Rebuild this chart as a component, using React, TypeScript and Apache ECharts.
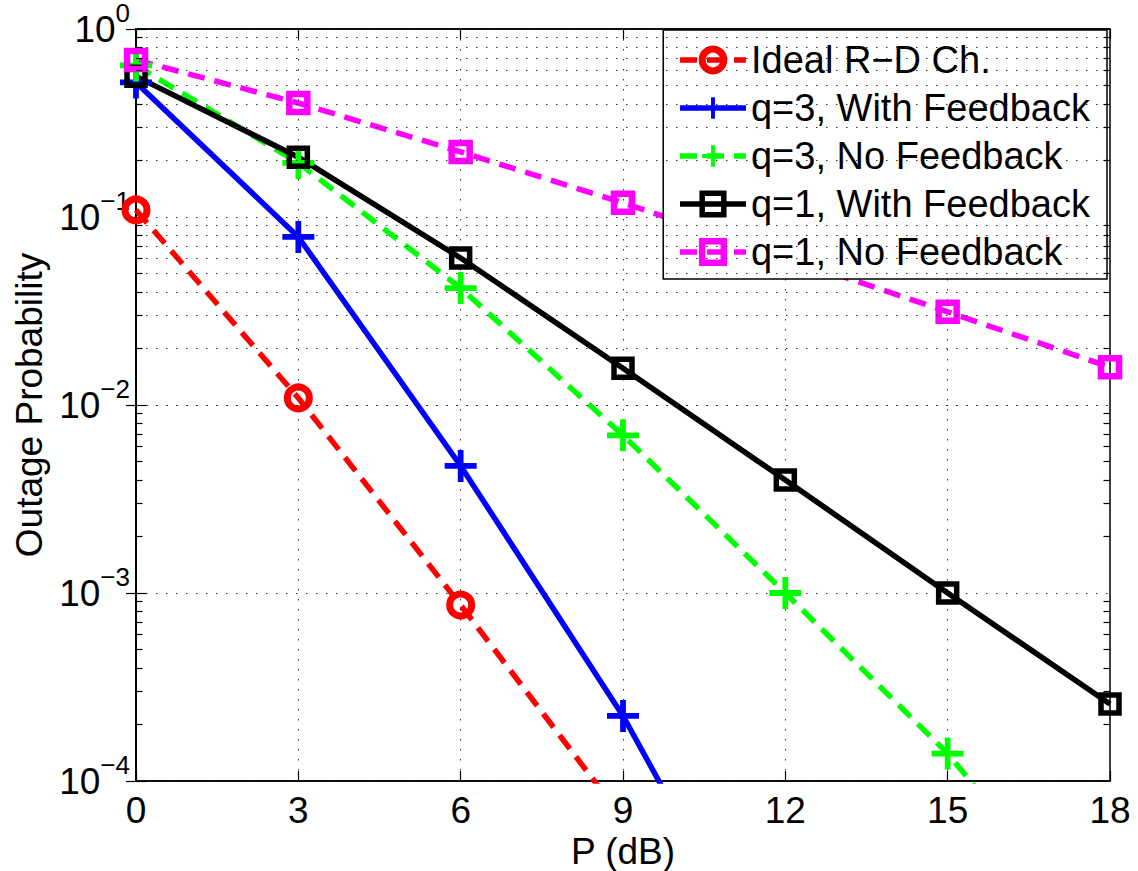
import React, { useEffect, useRef } from "react";
import * as echarts from "echarts";

const FONT = "'Liberation Sans', Arial, Helvetica, sans-serif";

// x positions (dB)
const pdB = [0, 3, 6, 9, 12, 15, 18];
const xTicks = [0, 3, 6, 9, 12, 15, 18];
const yDecades = [-4, -3, -2, -1, 0];
const minorMultipliers = [2, 3, 4, 5, 6, 7, 8, 9];

// series values (outage probability)
const idealRD = [0.109, 0.0109, 8.63e-4, 6.3e-5];
const q3WithFb = [0.52, 0.0783, 4.74e-3, 2.22e-4, 6e-6];
const q3NoFb = [0.64, 0.194, 0.0419, 6.9e-3, 1.0e-3, 1.4e-4, 1.25e-5];
const q1WithFb = [0.56, 0.208, 0.0605, 0.0157, 3.99e-3, 1.0e-3, 2.57e-4];
const q1NoFb = [0.684, 0.404, 0.222, 0.119, 0.0612, 0.0313, 0.0159];

const names = [
  "Ideal R\u2212D Ch.",
  "q=3, With Feedback",
  "q=3, No Feedback",
  "q=1, With Feedback",
  "q=1, No Feedback",
];

const PLUS = "path://M12.3,0 H17.7 V12.3 H30 V17.7 H17.7 V30 H12.3 V17.7 H0 V12.3 H12.3 Z";

function pairs(vals: number[]) {
  return vals.map((v, i) => [pdB[i], v]);
}

export default function App() {
  const ref = useRef<HTMLDivElement>(null);
  useEffect(() => {
    if (!ref.current) return;
    const chart = echarts.init(ref.current, null, { renderer: "svg" });
    const dash = [17, 10];
    const LW = 5.5;
    const gridDots = { type: [1.5, 8.5], color: "#333", width: 1 };

    const minorVals: number[] = [];
    yDecades.slice(0, -1).forEach((d) =>
      minorMultipliers.forEach((m) => minorVals.push(m * Math.pow(10, d)))
    );
    const markData: any[] = [];
    minorVals.forEach((v) => {
      markData.push({ yAxis: v, lineStyle: gridDots });
    });
    minorVals.forEach((v) => {
      markData.push([
        { coord: [0, v], lineStyle: { type: "solid", color: "#000", width: 1.2 } },
        { coord: [0.12, v] },
      ]);
      markData.push([
        { coord: [17.88, v], lineStyle: { type: "solid", color: "#000", width: 1.2 } },
        { coord: [18, v] },
      ]);
    });

    const supLabel = (value: number) => {
      const e = Math.round(Math.log10(value));
      const s = e === 0 ? "0" : "\u2212" + String(-e);
      return "{b|10}{s|" + s + "}";
    };

    const styles = [
      {
        line: { color: "#ff0000", width: LW, type: dash },
        item: { color: "rgba(255,255,255,0)", borderColor: "#ff0000", borderWidth: 7 },
      },
      {
        line: { color: "#0000ff", width: LW, type: "solid" },
        item: { color: "#0000ff", borderWidth: 0 },
      },
      {
        line: { color: "#00ff00", width: LW, type: dash },
        item: { color: "#00ff00", borderWidth: 0 },
      },
      {
        line: { color: "#000000", width: LW, type: "solid" },
        item: { color: "rgba(255,255,255,0)", borderColor: "#000000", borderWidth: 5.5 },
      },
      {
        line: { color: "#ff00ff", width: LW, type: dash },
        item: { color: "rgba(255,255,255,0)", borderColor: "#ff00ff", borderWidth: 6.5 },
      },
    ];

    const option: any = {
      animation: false,
      backgroundColor: "#fff",
      textStyle: { fontFamily: FONT },
      grid: {
        left: 136,
        right: 28,
        top: 29,
        bottom: 90,
        containLabel: false,
        outerBoundsMode: "none",
        show: true,
        borderColor: "#000",
        borderWidth: 1.5,
        backgroundColor: "#fff",
      },
      legend: {
        data: names.map((n, i) => ({
          name: n,
          lineStyle: styles[i].line,
          itemStyle: styles[i].item,
        })),
        orient: "vertical",
        right: 31,
        top: 30,
        backgroundColor: "#fff",
        borderColor: "#000",
        borderWidth: 1.5,
        padding: [11, 17, 8, 14],
        itemWidth: 66,
        itemHeight: 27,
        itemGap: 10,
        textStyle: { fontSize: 38, color: "#000", fontFamily: FONT },
        selectedMode: false,
      },
      xAxis: [
        {
          type: "value",
          min: 0,
          max: 18,
          interval: 3,
          name: "P (dB)",
          nameLocation: "middle",
          nameGap: 55,
          nameMoveOverlap: false,
          nameTextStyle: { fontSize: 37, lineHeight: 30, color: "#000", fontFamily: FONT },
          axisLine: { lineStyle: { color: "#000", width: 1.5 } },
          axisTick: { inside: true, length: 10, lineStyle: { color: "#000", width: 1.2 } },
          axisLabel: {
            fontSize: 37,
            lineHeight: 30,
            color: "#000",
            margin: 14,
            fontFamily: FONT,
            customValues: xTicks,
          },
          splitLine: { show: true, lineStyle: gridDots },
        },
        {
          type: "value",
          position: "top",
          min: 0,
          max: 18,
          interval: 3,
          axisLine: { lineStyle: { color: "#000", width: 1.5 } },
          axisTick: { inside: true, length: 10, lineStyle: { color: "#000", width: 1.2 } },
          axisLabel: { show: false },
          splitLine: { show: false },
        },
      ],
      yAxis: [
        {
          type: "log",
          logBase: 10,
          min: 1e-4,
          max: 1,
          name: "Outage Probability",
          nameLocation: "middle",
          nameGap: 88,
          nameMoveOverlap: false,
          nameTextStyle: { fontSize: 37, color: "#000", fontFamily: FONT },
          axisLine: { lineStyle: { color: "#000", width: 1.5 } },
          axisTick: { inside: true, length: 10, lineStyle: { color: "#000", width: 1.2 } },
          axisLabel: {
            margin: 6,
            formatter: supLabel,
            rich: {
              b: { fontSize: 37, color: "#000", fontFamily: FONT, verticalAlign: "bottom", lineHeight: 37 },
              s: {
                fontSize: 26,
                color: "#000",
                fontFamily: FONT,
                verticalAlign: "bottom",
                lineHeight: 26,
                padding: [0, 0, 22, 0],
              },
            },
          },
          splitLine: { show: true, lineStyle: gridDots },
        },
        {
          type: "log",
          logBase: 10,
          min: 1e-4,
          max: 1,
          position: "right",
          axisLine: { lineStyle: { color: "#000", width: 1.5 } },
          axisTick: { inside: true, length: 10, lineStyle: { color: "#000", width: 1.2 } },
          axisLabel: { show: false },
          splitLine: { show: false },
        },
      ],
      series: [
        {
          name: "__grid",
          type: "line",
          data: [],
          silent: true,
          markLine: {
            silent: true,
            symbol: ["none", "none"],
            label: { show: false },
            animation: false,
            data: markData,
          },
        },
        {
          name: names[0],
          type: "line",
          data: pairs(idealRD),
          clip: true,
          symbol: "circle",
          symbolSize: 22,
          lineStyle: styles[0].line,
          itemStyle: styles[0].item,
        },
        {
          name: names[1],
          type: "line",
          data: pairs(q3WithFb),
          clip: true,
          symbol: PLUS,
          symbolSize: 32,
          lineStyle: styles[1].line,
          itemStyle: styles[1].item,
        },
        {
          name: names[2],
          type: "line",
          data: pairs(q3NoFb),
          clip: true,
          symbol: PLUS,
          symbolSize: 32,
          lineStyle: styles[2].line,
          itemStyle: styles[2].item,
        },
        {
          name: names[3],
          type: "line",
          data: pairs(q1WithFb),
          clip: true,
          symbol: "rect",
          symbolSize: 18,
          lineStyle: styles[3].line,
          itemStyle: styles[3].item,
        },
        {
          name: names[4],
          type: "line",
          data: pairs(q1NoFb),
          clip: true,
          symbol: "rect",
          symbolSize: 18,
          lineStyle: styles[4].line,
          itemStyle: styles[4].item,
        },
      ],
    };
    chart.setOption(option);
    return () => chart.dispose();
  }, []);
  return (
    <div
      ref={ref}
      style={{ position: "fixed", left: 0, top: 0, width: 1138, height: 871, background: "#fff" }}
    />
  );
}
